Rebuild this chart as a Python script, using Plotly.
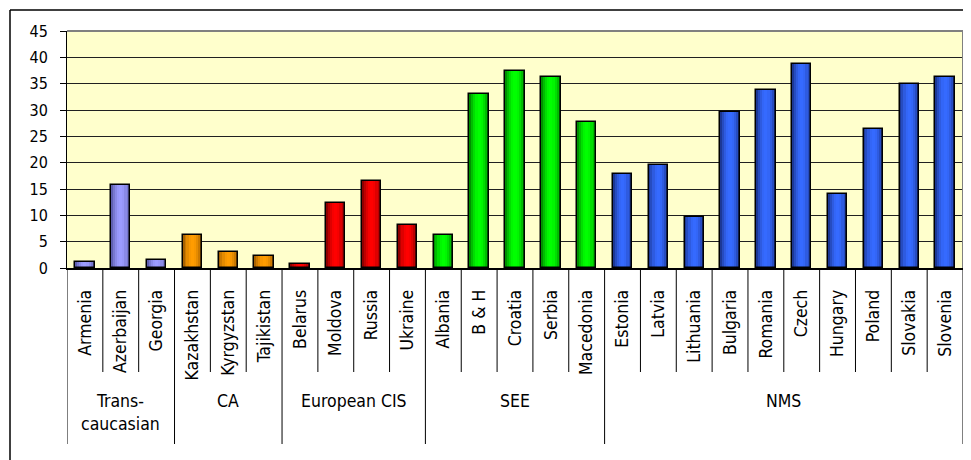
import plotly.graph_objects as go

# ---------------- data ----------------
countries = ["Armenia", "Azerbaijan", "Georgia",
             "Kazakhstan", "Kyrgyzstan", "Tajikistan",
             "Belarus", "Moldova", "Russia", "Ukraine",
             "Albania", "B & H", "Croatia", "Serbia", "Macedonia",
             "Estonia", "Latvia", "Lithuania", "Bulgaria", "Romania",
             "Czech", "Hungary", "Poland", "Slovakia", "Slovenia"]
values = [1.2, 15.7, 1.6,
          6.3, 3.1, 2.2,
          0.7, 12.3, 16.6, 8.2,
          6.3, 33.1, 37.5, 36.3, 27.8,
          17.9, 19.5, 9.7, 29.7, 33.8,
          38.8, 14.1, 26.3, 35.0, 36.3]
group_labels = ["Trans-<br>caucasian", "CA", "European CIS", "SEE", "NMS"]
group_sizes = [3, 3, 4, 5, 10]
y_ticks = [0, 5, 10, 15, 20, 25, 30, 35, 40, 45]

# ---------------- styles ----------------
group_center = [(0x9C, 0x9C, 0xFF), (0xFF, 0x9C, 0x00), (0xFF, 0x00, 0x00),
                (0x00, 0xFF, 0x00), (0x35, 0x6A, 0xFF)]
group_edge = [(0x60, 0x60, 0xB0), (0xA8, 0x62, 0x00), (0x90, 0x00, 0x00),
              (0x00, 0x90, 0x00), (0x1C, 0x38, 0x96)]
FONT = "Liberation Sans Narrow, Arial Narrow, DejaVu Sans Condensed, Arial, sans-serif"

# page body has an 8px margin -> figure origin sits at window (8, 8)
OFF = 8
W, H = 971 - OFF, 460 - OFF
# plot area in window px
WL, WT, WR, WB = 67, 31, 963, 268
L, T, R, B = WL - OFF, WT - OFF, WR - OFF, WB - OFF
pw, ph = R - L, B - T


def wx(px):
    """window x px -> paper x"""
    return (px - WL) / pw


def wy(py):
    """window y px -> paper y"""
    return (WB - py) / ph


def mix(c1, c2, t):
    return "rgb(%d,%d,%d)" % tuple(round(a + (b - a) * t) for a, b in zip(c1, c2))


group_of = []
for gi, n in enumerate(group_sizes):
    group_of += [gi] * n

bar_w = 0.54
layers = [(1.0, 0.0), (0.82, 0.4), (0.62, 0.7), (0.38, 0.92), (0.16, 1.0)]

fig = go.Figure()
for frac, t in layers:
    fig.add_trace(go.Bar(
        x=countries, y=values, width=bar_w * frac,
        marker=dict(color=[mix(group_edge[g], group_center[g], t) for g in group_of],
                    line=dict(width=0)),
        hoverinfo="skip", showlegend=False))
# outline
fig.add_trace(go.Bar(
    x=countries, y=values, width=bar_w,
    marker=dict(color="rgba(0,0,0,0)", line=dict(color="black", width=1.5)),
    showlegend=False))

shapes = []
bounds = [-0.5]
acc = -0.5
for n in group_sizes:
    acc += n
    bounds.append(acc)
for i in range(len(countries) + 1):
    xb = i - 0.5
    long = xb in bounds
    shapes.append(dict(type="line", xref="x", yref="paper", x0=xb, x1=xb,
                       y0=0, y1=wy(444 if long else 372),
                       line=dict(color="black", width=1)))
# plot area top & right border (gray)
shapes.append(dict(type="line", xref="paper", yref="paper", x0=0, x1=1, y0=1, y1=1,
                   line=dict(color="#808080", width=2)))
shapes.append(dict(type="line", xref="paper", yref="paper", x0=1, x1=1, y0=0, y1=1,
                   line=dict(color="#808080", width=2)))
# outer chart frame (left & top)
shapes.append(dict(type="line", xref="paper", yref="paper",
                   x0=wx(10), x1=wx(10), y0=wy(10), y1=wy(480),
                   line=dict(color="black", width=1.5)))
shapes.append(dict(type="line", xref="paper", yref="paper",
                   x0=wx(10), x1=wx(990), y0=wy(10), y1=wy(10),
                   line=dict(color="black", width=1.5)))

annotations = []
start = 0
for lab, n in zip(group_labels, group_sizes):
    center = start + (n - 1) / 2
    annotations.append(dict(x=center, xref="x", y=wy(389), yref="paper",
                            text=lab, showarrow=False, yanchor="top", xanchor="center",
                            font=dict(family=FONT, size=17.5, color="black")))
    start += n

fig.update_layout(
    width=W, height=H,
    margin=dict(l=L, r=W - R, t=T, b=H - B, pad=0),
    paper_bgcolor="white", plot_bgcolor="#FFFFCC",
    barmode="overlay", bargap=0,
    showlegend=False,
    font=dict(family=FONT, color="black"),
    shapes=shapes, annotations=annotations,
    xaxis=dict(type="category", tickangle=-90, ticks="", showline=True,
               linecolor="black", linewidth=1.5, showgrid=False, automargin=False,
               tickfont=dict(family=FONT, size=17.5, color="black"),
               ticklabelstandoff=13, range=[-0.5, len(countries) - 0.5]),
    yaxis=dict(range=[0, 45], tickvals=y_ticks, ticks="outside", ticklen=6,
               tickcolor="black", showline=True, linecolor="black", linewidth=1,
               gridcolor="#202020", gridwidth=1, zeroline=False, automargin=False,
               tickfont=dict(family=FONT, size=16, color="black"),
               ticklabelstandoff=9),
)

fig.write_html("out.html")
